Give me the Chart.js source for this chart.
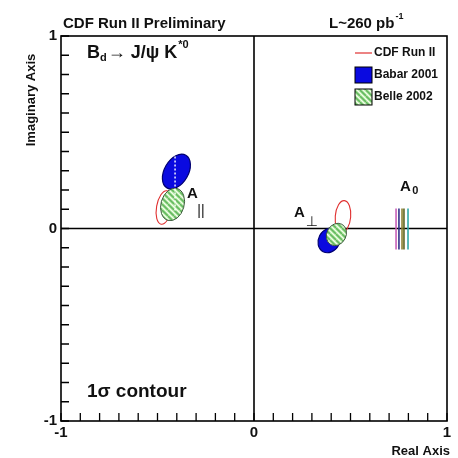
<!DOCTYPE html>
<html>
<head>
<meta charset="utf-8">
<script src="https://cdn.jsdelivr.net/npm/chart.js"></script>
<style>
  html, body { margin: 0; padding: 0; background: #fff; }
  canvas { display: block; }
</style>
</head>
<body>
<canvas id="grafico" width="458" height="458"></canvas>
<script>
// eixos
const xTicks = [-1, 0, 1];
const yTicks = [-1, 0, 1];

// experimentos (ordem: CDF, Babar, Belle)
const experimentos = ['CDF Run II', 'Babar 2001', 'Belle 2002'];

// contornos 1 sigma de A_paralelo
const parCentroX = [-0.466, -0.402, -0.422];
const parCentroY = [0.109, 0.296, 0.125];
const parSemiMaior = [0.088, 0.098, 0.086];
const parSemiMenor = [0.039, 0.062, 0.06];
const parAngulo = [80, 60, 74];

// contornos 1 sigma de A_perpendicular
const perpCentroX = [0.461, 0.389, 0.427];
const perpCentroY = [0.062, -0.062, -0.031];
const perpSemiMaior = [0.083, 0.066, 0.06];
const perpSemiMenor = [0.04, 0.055, 0.05];
const perpAngulo = [85, 62, 62];

// A0 (reais) — barras verticais
const a0X = [0.736, 0.751, 0.767, 0.777, 0.798];
const a0Min = [-0.109, -0.109, -0.109, -0.109, -0.109];
const a0Max = [0.104, 0.104, 0.104, 0.104, 0.104];
const a0Cores = ['#c860b8', '#303088', '#8a8030', '#5e6420', '#30a8a8'];

// linha pontilhada branca no contorno Babar de A_paralelo
const linhaX = [-0.409, -0.409];
const linhaY = [0.374, 0.083];

const fonte = '"Liberation Sans", Arial, sans-serif';

// padrão hachurado verde (Belle)
function padraoBelle(ctx) {
  const c = document.createElement('canvas');
  c.width = 6; c.height = 6;
  const p = c.getContext('2d');
  p.fillStyle = '#c6efb6';
  p.fillRect(0, 0, 6, 6);
  p.lineWidth = 1.6;
  p.strokeStyle = '#62b85e';
  [-6, 0, 6].forEach(k => { p.beginPath(); p.moveTo(k, 0); p.lineTo(k + 6, 6); p.stroke(); });
  p.lineWidth = 0.8;
  p.strokeStyle = '#ffffff';
  [-6, 0, 6].forEach(k => { p.beginPath(); p.moveTo(k + 3, 0); p.lineTo(k + 9, 6); p.stroke(); });
  return ctx.createPattern(c, 'repeat');
}

const estilos = [
  { fill: null, stroke: '#e03030', width: 1.1 },
  { fill: '#0a0ae0', stroke: '#000070', width: 1.2 },
  { fill: 'belle', stroke: '#3c5a3c', width: 1 }
];

const fundoEixos = {
  id: 'fundoEixos',
  beforeDatasetsDraw(chart) {
    const { ctx, chartArea: a, scales: { x, y } } = chart;
    ctx.save();
    ctx.strokeStyle = '#000';
    ctx.lineWidth = 1.6;
    // moldura
    ctx.strokeRect(a.left, a.top, a.right - a.left, a.bottom - a.top);
    // linhas do zero
    ctx.beginPath();
    ctx.moveTo(x.getPixelForValue(0), a.top);
    ctx.lineTo(x.getPixelForValue(0), a.bottom);
    ctx.moveTo(a.left, y.getPixelForValue(0));
    ctx.lineTo(a.right, y.getPixelForValue(0));
    ctx.stroke();
    // marcas a cada 0.1, para dentro
    ctx.lineWidth = 1.3;
    ctx.beginPath();
    for (let i = -10; i <= 10; i++) {
      const px = x.getPixelForValue(i / 10);
      ctx.moveTo(px, a.bottom);
      ctx.lineTo(px, a.bottom - 8);
      const py = y.getPixelForValue(i / 10);
      ctx.moveTo(a.left, py);
      ctx.lineTo(a.left + 8, py);
    }
    ctx.stroke();

    // elipses
    const kx = x.getPixelForValue(1) - x.getPixelForValue(0);
    const ky = y.getPixelForValue(0) - y.getPixelForValue(1);
    const hach = padraoBelle(ctx);
    const grupos = [
      [parCentroX, parCentroY, parSemiMaior, parSemiMenor, parAngulo],
      [perpCentroX, perpCentroY, perpSemiMaior, perpSemiMenor, perpAngulo]
    ];
    grupos.forEach(([cx, cy, sa, sb, ang]) => {
      experimentos.forEach((_, i) => {
        const e = estilos[i];
        ctx.beginPath();
        ctx.ellipse(x.getPixelForValue(cx[i]), y.getPixelForValue(cy[i]),
          sa[i] * (kx + ky) / 2, sb[i] * (kx + ky) / 2, -ang[i] * Math.PI / 180, 0, Math.PI * 2);
        if (e.fill) {
          ctx.fillStyle = e.fill === 'belle' ? hach : e.fill;
          ctx.fill();
        }
        ctx.lineWidth = e.width;
        ctx.strokeStyle = e.stroke;
        ctx.stroke();
      });
    });
    ctx.restore();
  }
};

const textos = {
  id: 'textos',
  afterDraw(chart) {
    const { ctx, scales: { x, y } } = chart;
    ctx.save();
    ctx.fillStyle = '#111';
    ctx.textBaseline = 'alphabetic';

    // cabeçalho
    ctx.font = 'bold 15px ' + fonte;
    ctx.fillText('CDF Run II Preliminary', 63, 28);
    ctx.fillText('L~260 pb', 329, 28);
    let w = ctx.measureText('L~260 pb').width;
    ctx.font = 'bold 9px ' + fonte;
    ctx.fillText('-1', 329 + w + 1, 19);

    // decaimento
    let px = 87;
    ctx.font = 'bold 18px ' + fonte;
    ctx.fillText('B', px, 58); px += ctx.measureText('B').width;
    ctx.font = 'bold 11px ' + fonte;
    ctx.fillText('d', px, 61); px += ctx.measureText('d').width + 1;
    ctx.font = 'bold 18px ' + fonte;
    ctx.fillText('\u2192 J/\u03c8 K', px, 58); px += ctx.measureText('\u2192 J/\u03c8 K').width;
    ctx.font = 'bold 11px ' + fonte;
    ctx.fillText('*0', px + 1, 48);

    // 1 sigma
    ctx.font = 'bold 19px ' + fonte;
    ctx.fillText('1\u03c3 contour', 87, 397);

    // rótulos das amplitudes
    ctx.font = 'bold 15px ' + fonte;
    ctx.fillText('A', x.getPixelForValue(-0.347), y.getPixelForValue(0.16));
    ctx.fillText('A', x.getPixelForValue(0.207), y.getPixelForValue(0.062));
    ctx.fillText('A', x.getPixelForValue(0.756), y.getPixelForValue(0.197));
    ctx.font = '14px ' + fonte;
    ctx.fillText('||', x.getPixelForValue(-0.294), y.getPixelForValue(0.072));
    ctx.font = '14px "DejaVu Sans", sans-serif';
    ctx.fillText('\u22a5', x.getPixelForValue(0.268), y.getPixelForValue(0.012));
    ctx.font = 'bold 11px ' + fonte;
    ctx.fillText('0', x.getPixelForValue(0.82), y.getPixelForValue(0.18));

    // títulos dos eixos
    ctx.font = 'bold 13px ' + fonte;
    ctx.textAlign = 'right';
    ctx.fillText('Real Axis', 450, 455);
    ctx.save();
    ctx.translate(35, 100);
    ctx.rotate(-Math.PI / 2);
    ctx.textAlign = 'center';
    ctx.fillText('Imaginary Axis', 0, 0);
    ctx.restore();

    // legenda
    ctx.textAlign = 'left';
    ctx.textBaseline = 'middle';
    ctx.font = 'bold 12px ' + fonte;
    ctx.strokeStyle = '#e03030';
    ctx.lineWidth = 1.2;
    ctx.beginPath(); ctx.moveTo(355, 53); ctx.lineTo(372, 53); ctx.stroke();
    ctx.fillText(experimentos[0], 374, 53);
    ctx.fillStyle = '#0a0ae0';
    ctx.fillRect(355, 67, 17, 16);
    ctx.strokeStyle = '#000';
    ctx.lineWidth = 1;
    ctx.strokeRect(355, 67, 17, 16);
    ctx.fillStyle = padraoBelle(ctx);
    ctx.fillRect(355, 89, 17, 16);
    ctx.strokeRect(355, 89, 17, 16);
    ctx.fillStyle = '#111';
    ctx.fillText(experimentos[1], 374, 75);
    ctx.fillText(experimentos[2], 374, 97);
    ctx.restore();
  }
};

const datasets = a0X.map((v, i) => ({
  data: [{ x: v, y: a0Min[i] }, { x: v, y: a0Max[i] }],
  showLine: true,
  borderColor: a0Cores[i],
  borderWidth: 1.6,
  pointRadius: 0
}));
datasets.push({
  data: linhaX.map((v, i) => ({ x: v, y: linhaY[i] })),
  showLine: true,
  borderColor: '#ffffff',
  borderWidth: 1.4,
  borderDash: [2, 2],
  pointRadius: 0
});

new Chart(document.getElementById('grafico'), {
  type: 'scatter',
  data: { datasets },
  plugins: [fundoEixos, textos],
  options: {
    responsive: false,
    animation: false,
    layout: { padding: { top: 36, right: 11, left: 0, bottom: 0 } },
    plugins: { legend: { display: false }, tooltip: { enabled: false } },
    scales: {
      x: {
        type: 'linear', min: -1, max: 1,
        afterBuildTicks: s => { s.ticks = xTicks.map(v => ({ value: v })); },
        afterFit: s => { s.height = 37; },
        grid: { display: false, drawTicks: false },
        border: { display: false },
        ticks: { color: '#111', padding: 3, maxRotation: 0, font: { family: fonte, size: 15, weight: 'bold' } }
      },
      y: {
        type: 'linear', min: -1, max: 1,
        afterBuildTicks: s => { s.ticks = yTicks.map(v => ({ value: v })); },
        afterFit: s => { s.width = 61; },
        grid: { display: false, drawTicks: false },
        border: { display: false },
        ticks: { color: '#111', padding: 4, font: { family: fonte, size: 15, weight: 'bold' } }
      }
    }
  }
});
</script>
</body>
</html>
